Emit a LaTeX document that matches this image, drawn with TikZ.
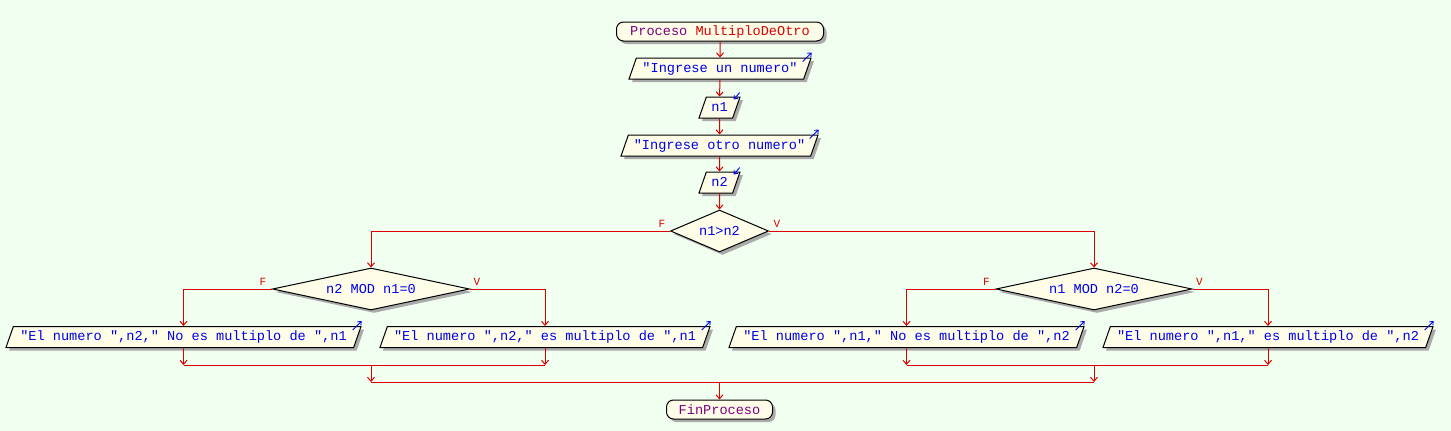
\documentclass[tikz,border=0pt]{standalone}
\usepackage{fontspec}
\setmonofont{Liberation Mono}
\usetikzlibrary{shapes.geometric,shadows,calc,arrows.meta}
\definecolor{bgc}{RGB}{240,255,240}
\definecolor{cream}{RGB}{253,253,232}
\definecolor{txtblue}{RGB}{0,0,235}
\definecolor{flowred}{RGB}{220,0,0}
\definecolor{shgray}{RGB}{170,170,170}
\definecolor{kwpurple}{RGB}{128,0,128}
\begin{document}
\begin{tikzpicture}[x=1pt,y=-1pt,
  base/.style={draw=black, line width=1pt, fill=cream,
    font=\ttfamily\fontsize{13.6}{14}\selectfont, text=txtblue, inner sep=0pt,
    drop shadow={shadow xshift=3pt, shadow yshift=-3pt, fill=shgray, opacity=1}},
  term/.style={base, rectangle, rounded corners=7pt, minimum height=19pt},
  io/.style={base, trapezium, trapezium left angle=70.7, trapezium right angle=109.3,
    trapezium stretches body, text height=10pt, text depth=3pt, inner ysep=4pt},
  dec/.style={base, diamond, aspect=4},
  flow/.style={draw=flowred, line width=1pt, -{Straight Barb[length=4pt,width=7pt]}},
  joinline/.style={draw=flowred, line width=1pt},
  icon/.style={draw=txtblue, line width=0.9pt, -{Straight Barb[length=3pt,width=5pt]}},
  lbl/.style={text=flowred, font=\ttfamily\fontsize{11}{11}\selectfont, inner sep=0pt}
]
\fill[bgc] (0,0) rectangle (1451,431);
\useasboundingbox (0,0) rectangle (1451,431);

\node[term, minimum width=207pt] (start) at (720,31.5)
  {\textcolor{kwpurple}{Proceso} \textcolor{flowred}{MultiploDeOtro}};
\node[io, minimum width=182pt] (o1) at (720,68.5) {"Ingrese un numero"};
\node[io, minimum width=41pt] (in1) at (719.5,107.5) {n1};
\node[io, minimum width=197pt] (o2) at (719.5,145.5) {"Ingrese otro numero"};
\node[io, minimum width=41pt] (in2) at (719.5,182.5) {n2};
\node[dec, minimum width=98pt, minimum height=42pt] (d1) at (719.5,231) {n1>n2};
\node[dec, minimum width=197pt, minimum height=42pt] (d2) at (371,289) {n2 MOD n1=0};
\node[dec, minimum width=196pt, minimum height=42pt] (d3) at (1094,289) {n1 MOD n2=0};
\node[io, minimum width=355pt] (oL1) at (183.5,337) {"El numero ",n2," No es multiplo de ",n1};
\node[io, minimum width=330pt] (oL2) at (545,337) {"El numero ",n2," es multiplo de ",n1};
\node[io, minimum width=355pt] (oR1) at (906.5,337) {"El numero ",n1," No es multiplo de ",n2};
\node[io, minimum width=330pt] (oR2) at (1268,337) {"El numero ",n1," es multiplo de ",n2};
\node[term, minimum width=106pt] (fin) at (719.5,409.5) {\textcolor{kwpurple}{FinProceso}};

% output / input icons
\foreach \n in {o1,o2,oL1,oL2,oR1,oR2}{
  \draw[icon] ($(\n.top right corner)+(-9,4)$) -- ($(\n.top right corner)+(0,-5)$);
}
\foreach \n in {in1,in2}{
  \draw[icon] ($(\n.top right corner)+(-1,-4)$) -- ($(\n.top right corner)+(-7,3)$);
}

% main flow
\draw[flow] (start.south) -- (o1.north);
\draw[flow] (o1.south) -- (in1.north);
\draw[flow] (in1.south) -- (o2.north);
\draw[flow] (o2.south) -- (in2.north);
\draw[flow] (in2.south) -- (d1.north);

\draw[flow] (d1.west) -| (d2.north);
\draw[flow] (d1.east) -| (d3.north);
\draw[flow] (d2.west) -| (oL1.north);
\draw[flow] (d2.east) -| (oL2.north);
\draw[flow] (d3.west) -| (oR1.north);
\draw[flow] (d3.east) -| (oR2.north);

\node[lbl] (f1) at ($(d1.west)+(-8,-7)$) {F};
\node[lbl] (v1) at ($(d1.east)+(8,-7)$) {V};
\node[lbl] (f2) at ($(d2.west)+(-9,-7)$) {F};
\node[lbl] (v2) at ($(d2.east)+(7,-7)$) {V};
\node[lbl] (f3) at ($(d3.west)+(-9,-7)$) {F};
\node[lbl] (v3) at ($(d3.east)+(7,-7)$) {V};

% merges
\coordinate (mL) at (0,365);
\coordinate (mA) at (0,382);
\draw[flow] (oL1.south) -- (oL1.south |- mL);
\draw[flow] (oL2.south) -- (oL2.south |- mL);
\draw[joinline] (oL1.south |- mL) -- (oL2.south |- mL);
\draw[flow] (oR1.south) -- (oR1.south |- mL);
\draw[flow] (oR2.south) -- (oR2.south |- mL);
\draw[joinline] (oR1.south |- mL) -- (oR2.south |- mL);
\draw[flow] (d2.center |- mL) -- (d2.center |- mA);
\draw[flow] (d3.center |- mL) -- (d3.center |- mA);
\draw[joinline] (d2.center |- mA) -- (d3.center |- mA);
\draw[flow] (d1.center |- mA) -- (fin.north);
\end{tikzpicture}
\end{document}
